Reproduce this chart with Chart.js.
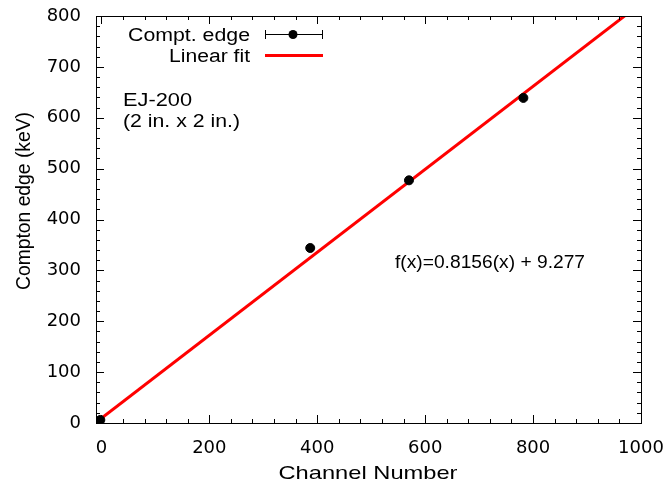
<!DOCTYPE html>
<html>
<head>
<meta charset="utf-8">
<script src="https://cdn.jsdelivr.net/npm/chart.js@4.4.1/dist/chart.umd.min.js"></script>
<style>
  html, body { margin: 0; padding: 0; background: #fff; }
  #wrap { width: 672px; height: 488px; }
</style>
</head>
<body>
<div id="wrap"><canvas id="myChart" width="672" height="488"></canvas></div>
<script>
// measured Compton edges (channel, keV)
var edgeChannels = [-2, 387, 570, 782];
var edgeEnergies = [6, 344, 477, 639];

// linear fit parameters
var fitSlope = 0.8156;
var fitIntercept = 9.277;

var xTicks = [0, 200, 400, 600, 800, 1000];
var yTicks = [0, 100, 200, 300, 400, 500, 600, 700, 800];
var xMinorStep = 40;
var yMinorStep = 20;

var TICK_FONT = "'DejaVu Sans', sans-serif";
var TEXT_FONT = "'Liberation Sans', Arial, sans-serif";

function fitLine(x0, x1) {
    return [
        { x: x0, y: fitSlope * x0 + fitIntercept },
        { x: x1, y: fitSlope * x1 + fitIntercept }
    ];
}

// text squeezed/stretched horizontally to a given width (gnuplot's wide sans)
function wideText(ctx, text, x, y, width, align, angle) {
    let natural = ctx.measureText(text).width;
    ctx.save();
    ctx.translate(x, y);
    if (angle) ctx.rotate(angle);
    ctx.scale(width / natural, 1);
    ctx.textAlign = align;
    ctx.textBaseline = 'alphabetic';
    ctx.fillText(text, 0, 0);
    ctx.restore();
}

// gnuplot style frame: inward ticks on all four sides + key + labels
var framePlugin = {
    id: 'frame',
    afterDraw(chart) {
        let ctx = chart.ctx;
        let a = chart.chartArea;
        let xs = chart.scales.x;
        let ys = chart.scales.y;
        ctx.save();
        ctx.strokeStyle = '#000';
        ctx.lineWidth = 1;
        ctx.strokeRect(a.left + 0.5, a.top + 0.5, a.right - a.left, a.bottom - a.top);

        ctx.beginPath();
        for (let v = 0; v <= 1000; v += xMinorStep) {
            let px = Math.round(xs.getPixelForValue(v)) + 0.5;
            let len = (v % 200 === 0) ? 8 : 4;
            ctx.moveTo(px, a.bottom); ctx.lineTo(px, a.bottom - len);
            ctx.moveTo(px, a.top); ctx.lineTo(px, a.top + len);
        }
        for (let v = 0; v <= 800; v += yMinorStep) {
            let py = Math.round(ys.getPixelForValue(v)) + 0.5;
            let len = (v % 100 === 0) ? 8 : 4;
            ctx.moveTo(a.left, py); ctx.lineTo(a.left + len, py);
            ctx.moveTo(a.right, py); ctx.lineTo(a.right - len, py);
        }
        ctx.stroke();

        ctx.fillStyle = '#000';

        // axis titles
        ctx.font = '19px ' + TEXT_FONT;
        wideText(ctx, 'Channel Number', 368, 479, 179, 'center');
        ctx.font = '21px ' + TEXT_FONT;
        wideText(ctx, 'Compton edge (keV)', 30, 201, 178, 'center', -Math.PI / 2);

        // key
        ctx.font = '18px ' + TEXT_FONT;
        wideText(ctx, 'Compt. edge', 250, 41, 122, 'right');
        wideText(ctx, 'Linear fit', 250, 62, 81, 'right');

        ctx.beginPath();
        ctx.moveTo(265, 34.5); ctx.lineTo(323, 34.5);
        ctx.moveTo(265.5, 30); ctx.lineTo(265.5, 39);
        ctx.moveTo(322.5, 30); ctx.lineTo(322.5, 39);
        ctx.stroke();
        ctx.beginPath();
        ctx.arc(293, 34.5, 4.5, 0, Math.PI * 2);
        ctx.fill();

        ctx.strokeStyle = '#ff0000';
        ctx.lineWidth = 3;
        ctx.beginPath();
        ctx.moveTo(265, 55.5); ctx.lineTo(323, 55.5);
        ctx.stroke();

        // labels
        ctx.font = '18px ' + TEXT_FONT;
        wideText(ctx, 'EJ-200', 123, 106, 69, 'left');
        wideText(ctx, '(2 in. x 2 in.)', 123, 127, 117, 'left');
        wideText(ctx, 'f(x)=' + fitSlope + '(x) + ' + fitIntercept, 395, 268, 190, 'left');
        ctx.restore();
    }
};

function init() {
    let points = edgeChannels.map((x, i) => ({ x: x, y: edgeEnergies[i] }));

    let data = {
        datasets: [{
            label: 'Compt. edge',
            data: points,
            backgroundColor: '#000',
            borderColor: '#000',
            pointRadius: 4.5,
            pointHoverRadius: 4.5,
            showLine: false,
            order: 0
        }, {
            label: 'Linear fit',
            data: fitLine(-10, 1000),
            borderColor: '#ff0000',
            borderWidth: 3,
            pointRadius: 0,
            showLine: true,
            fill: false,
            order: 1
        }]
    };

    let config = {
        type: 'scatter',
        data,
        options: {
            responsive: false,
            animation: false,
            layout: { padding: { left: 0, top: 16, right: 31, bottom: 0 } },
            plugins: {
                legend: { display: false },
                tooltip: { enabled: false }
            },
            scales: {
                x: {
                    type: 'linear',
                    min: -10,
                    max: 1000,
                    afterBuildTicks: s => { s.ticks = xTicks.map(v => ({ value: v })); },
                    afterFit: s => {
                        s.height = 65;
                        s.paddingLeft = 0;
                        s.paddingRight = 0;
                    },
                    grid: { display: false, drawTicks: false },
                    border: { display: false },
                    ticks: {
                        color: '#000',
                        padding: 15,
                        callback: v => String(v),
                        font: { family: TICK_FONT, size: 18 }
                    }
                },
                y: {
                    type: 'linear',
                    min: 0,
                    max: 800,
                    afterBuildTicks: s => { s.ticks = yTicks.map(v => ({ value: v })); },
                    afterFit: s => {
                        s.width = 96;
                        s.paddingTop = 0;
                        s.paddingBottom = 0;
                    },
                    grid: { display: false, drawTicks: false },
                    border: { display: false },
                    ticks: {
                        color: '#000',
                        padding: 15,
                        font: { family: TICK_FONT, size: 18 }
                    }
                }
            }
        },
        plugins: [framePlugin]
    };

    myChart = new Chart(document.getElementById('myChart'), config);
}

init();
</script>
</body>
</html>
